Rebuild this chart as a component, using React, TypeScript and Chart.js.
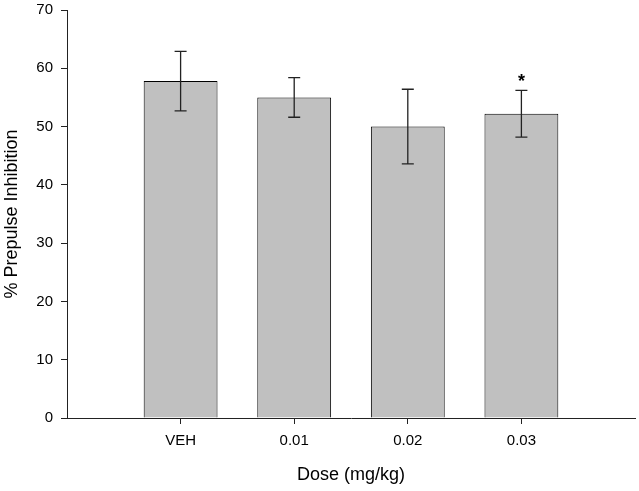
import React, { useRef, useEffect } from "react";
import { Chart, registerables, Plugin } from "chart.js";

Chart.register(...registerables);

const doses = ["VEH", "0.01", "0.02", "0.03"];
const meanPPI = [57.8, 55.0, 50.0, 52.2];
const semPPI = [5.1, 3.4, 6.4, 4.0];
const sigMarks = ["", "", "", "*"];

const FONT = "'Liberation Sans', Arial, Helvetica, sans-serif";

// draws the SEM whiskers and the significance marks over each bar
const errorBarPlugin: Plugin<"bar"> = {
  id: "errorBars",
  afterDatasetsDraw(chart) {
    const { ctx } = chart;
    const xs = chart.scales.x;
    const ys = chart.scales.y;
    ctx.save();
    ctx.strokeStyle = "#222";
    ctx.lineWidth = 1.3;
    meanPPI.forEach((m, i) => {
      const x = xs.getPixelForValue(i + 1);
      const top = ys.getPixelForValue(m + semPPI[i]);
      const bot = ys.getPixelForValue(m - semPPI[i]);
      const cap = 6;
      ctx.beginPath();
      ctx.moveTo(x, top);
      ctx.lineTo(x, bot);
      ctx.moveTo(x - cap, top);
      ctx.lineTo(x + cap, top);
      ctx.moveTo(x - cap, bot);
      ctx.lineTo(x + cap, bot);
      ctx.stroke();
      if (sigMarks[i]) {
        ctx.fillStyle = "#000";
        ctx.font = `bold 18px ${FONT}`;
        ctx.textAlign = "center";
        ctx.textBaseline = "middle";
        ctx.fillText(sigMarks[i], x, top - 8);
      }
    });
    ctx.restore();
  },
};

const PPIChart: React.FC = () => {
  const chartRef = useRef<HTMLCanvasElement | null>(null);

  useEffect(() => {
    if (!chartRef.current) return;
    Chart.defaults.font.family = FONT;
    const chartInstance = new Chart(chartRef.current, {
      type: "bar",
      data: {
        datasets: [
          {
            data: doses.map((_, i) => ({ x: i + 1, y: meanPPI[i] })),
            backgroundColor: "#c0c0c0",
            borderColor: "#000",
            borderWidth: 1,
            barPercentage: 0.65,
            categoryPercentage: 1,
          },
        ],
      },
      options: {
        animation: false,
        responsive: true,
        maintainAspectRatio: false,
        layout: { padding: { top: 10, right: 4, left: 0, bottom: 0 } },
        plugins: {
          legend: { display: false },
          tooltip: { enabled: false },
        },
        scales: {
          x: {
            type: "linear",
            min: 0,
            max: 5,
            offset: false,
            afterFit: (scale) => {
              scale.height = 73;
              scale.paddingLeft = 0;
              scale.paddingRight = 0;
            },
            ticks: {
              stepSize: 1,
              autoSkip: false,
              color: "#000",
              font: { size: 15 },
              padding: 8,
              callback: (v) => doses[(v as number) - 1] ?? "",
            },
            grid: {
              offset: false,
              drawOnChartArea: false,
              drawTicks: true,
              tickLength: 6,
              color: (ctx) => {
                const v = ctx.tick ? ctx.tick.value : 0;
                return v >= 1 && v <= doses.length ? "#222" : "rgba(0,0,0,0)";
              },
            },
            border: { display: true, color: "#222", width: 1 },
            title: {
              display: true,
              text: "Dose (mg/kg)",
              color: "#000",
              font: { size: 18 },
              padding: { top: 0, bottom: 5 },
            },
          },
          y: {
            min: 0,
            max: 70,
            afterFit: (scale) => {
              scale.width = 67;
              scale.paddingTop = 0;
              scale.paddingBottom = 0;
            },
            ticks: {
              stepSize: 10,
              color: "#000",
              font: { size: 15 },
              padding: 8,
            },
            grid: {
              drawOnChartArea: false,
              drawTicks: true,
              tickLength: 6,
              color: "#222",
            },
            border: { display: true, color: "#222", width: 1 },
            title: {
              display: true,
              text: "% Prepulse Inhibition",
              color: "#000",
              font: { size: 18 },
              padding: { top: 1, bottom: 0 },
            },
          },
        },
      },
      plugins: [errorBarPlugin],
    });

    return () => {
      chartInstance.destroy();
    };
  }, []);

  return <canvas ref={chartRef} />;
};

export default function App() {
  return (
    <div style={{ position: "absolute", left: 0, top: 0, width: 639, height: 491 }}>
      <PPIChart />
    </div>
  );
}
